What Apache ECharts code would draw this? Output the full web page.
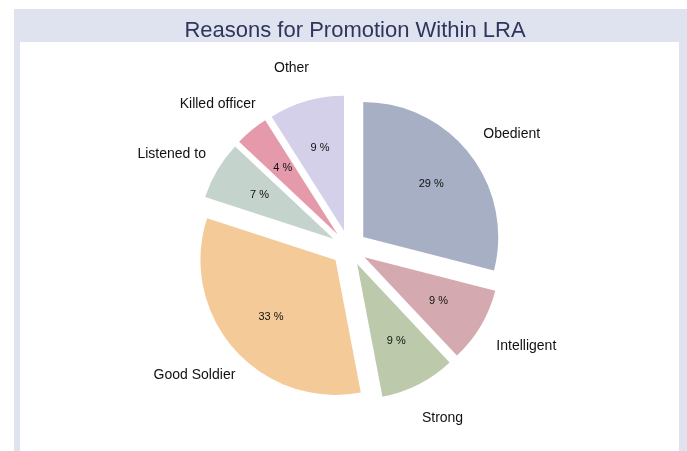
<!DOCTYPE html>
<html>
<head>
<meta charset="utf-8">
<script src="https://cdn.jsdelivr.net/npm/echarts@6/dist/echarts.min.js"></script>
<style>
  html, body { margin: 0; padding: 0; background: #fff; }
  #main { width: 687px; height: 451px; }
</style>
</head>
<body>
<div id="main"></div>
<script>
// data
var reasons = ['Obedient', 'Intelligent', 'Strong', 'Good Soldier', 'Listened to', 'Killed officer', 'Other'];
var shares = [29, 9, 9, 33, 7, 4, 9];
var sliceColors = ['#a6afc4', '#d4aab0', '#bdc9ab', '#f4ca98', '#c5d3cd', '#e59aab', '#d4d0ea'];

var FONT = '"Liberation Sans", Arial, sans-serif';
var CENTER = [349, 248];

function buildData(selected, colored) {
  return reasons.map(function (name, i) {
    return {
      name: name,
      value: shares[i],
      selected: selected,
      itemStyle: { color: colored ? sliceColors[i] : 'rgba(0,0,0,0)' }
    };
  });
}

var chart = echarts.init(document.getElementById('main'), null, { renderer: 'canvas' });

var option = {
  animation: false,
  backgroundColor: '#ffffff',
  graphic: [
    { type: 'rect', z: -10, shape: { x: 14, y: 9, width: 673, height: 442 }, style: { fill: '#dfe3ef' } },
    { type: 'rect', z: -9, shape: { x: 20, y: 42, width: 659, height: 409 }, style: { fill: '#ffffff' } }
  ],
  title: {
    text: 'Reasons for Promotion Within LRA',
    left: 350,
    textAlign: 'center',
    top: 15,
    textStyle: { fontFamily: FONT, fontSize: 22, fontWeight: 'normal', color: '#30355c' }
  },
  series: [
    {
      // the slices
      type: 'pie',
      center: CENTER,
      radius: 135,
      startAngle: 90,
      clockwise: true,
      selectedMode: 'multiple',
      selectedOffset: 18,
      silent: true,
      label: { show: false },
      labelLine: { show: false },
      data: buildData(true, true)
    },
    {
      // percentage labels
      type: 'pie',
      center: CENTER,
      radius: 166,
      startAngle: 90,
      clockwise: true,
      selectedMode: 'multiple',
      selectedOffset: 18,
      silent: true,
      z: 3,
      label: {
        show: true,
        position: 'inside',
        formatter: '{d} %',
        fontFamily: FONT,
        fontSize: 11,
        color: '#111'
      },
      labelLine: { show: false },
      data: buildData(true, false)
    },
    {
      // category names, ring is a bit wider than tall
      type: 'pie',
      center: [CENTER[0], CENTER[1] + 2],
      radius: 372,
      startAngle: 90,
      clockwise: true,
      silent: true,
      z: 3,
      label: {
        show: true,
        position: 'inside',
        formatter: '{b}',
        fontFamily: FONT,
        fontSize: 14,
        color: '#111'
      },
      labelLine: { show: false },
      labelLayout: function (params) {
        var r = params.labelRect;
        var midX = r.x + r.width / 2;
        return { dx: (midX - CENTER[0]) * 0.09 };
      },
      data: buildData(false, false)
    }
  ]
};

chart.setOption(option);
</script>
</body>
</html>
